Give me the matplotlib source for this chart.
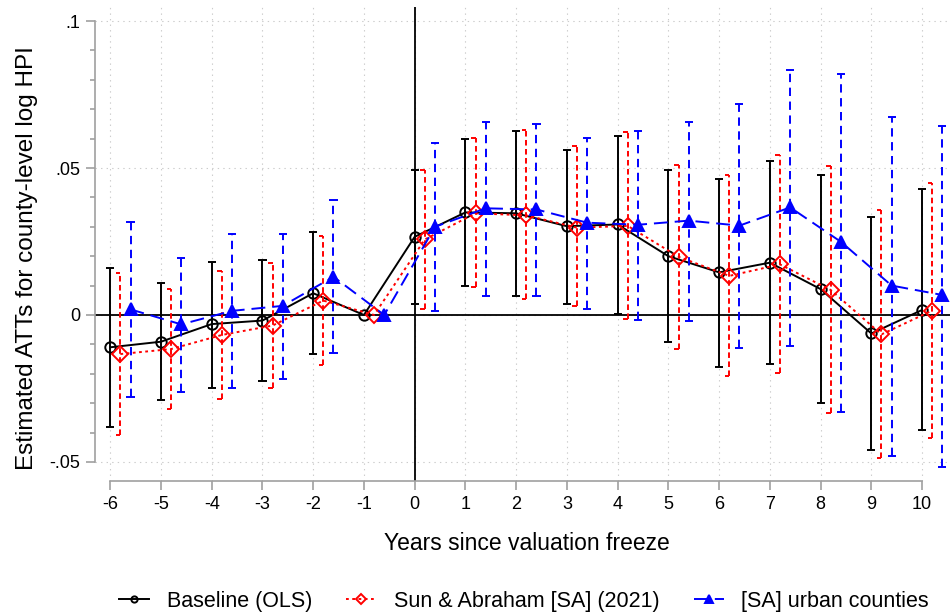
import numpy as np
import matplotlib
matplotlib.use("Agg")
import matplotlib.pyplot as plt

plt.rcParams['font.family'] = ['Liberation Sans', 'DejaVu Sans']
plt.rcParams['lines.scale_dashes'] = False

# Event time
years = np.arange(-6, 11)

# Baseline (OLS)
base_est = [-0.0110, -0.0091, -0.0031, -0.0019, 0.0074, 0.0, 0.0266, 0.0349, 0.0346,
            0.0302, 0.0308, 0.0200, 0.0145, 0.0178, 0.0088, -0.0063, 0.0017]
base_lo = [-0.0380, -0.0291, -0.0247, -0.0223, -0.0134, 0.0, 0.0039, 0.0100, 0.0066,
           0.0039, 0.0003, -0.0092, -0.0176, -0.0168, -0.0300, -0.0459, -0.0391]
base_hi = [0.0159, 0.0110, 0.0179, 0.0187, 0.0282, 0.0, 0.0495, 0.0598, 0.0626,
           0.0563, 0.0609, 0.0492, 0.0463, 0.0523, 0.0478, 0.0332, 0.0427]

# Sun & Abraham (2021)
sa_est = [-0.0133, -0.0116, -0.0068, -0.0036, 0.0049, 0.0, 0.0257, 0.0346, 0.0339,
          0.0297, 0.0303, 0.0198, 0.0133, 0.0172, 0.0085, -0.0066, 0.0015]
sa_lo = [-0.0407, -0.0321, -0.0286, -0.0247, -0.0170, 0.0, 0.0020, 0.0095, 0.0053,
         0.0031, -0.0015, -0.0115, -0.0207, -0.0196, -0.0334, -0.0488, -0.0418]
sa_hi = [0.0142, 0.0090, 0.0150, 0.0176, 0.0270, 0.0, 0.0495, 0.0603, 0.0629,
         0.0576, 0.0624, 0.0512, 0.0478, 0.0545, 0.0507, 0.0357, 0.0450]

# SA urban counties
urb_est = [0.0019, -0.0032, 0.0014, 0.0031, 0.0130, 0.0, 0.0300, 0.0363, 0.0359,
           0.0314, 0.0307, 0.0321, 0.0304, 0.0366, 0.0249, 0.0100, 0.0068]
urb_lo = [-0.0278, -0.0261, -0.0249, -0.0218, -0.0130, 0.0, 0.0015, 0.0066, 0.0066,
          0.0020, -0.0017, -0.0020, -0.0113, -0.0104, -0.0329, -0.0480, -0.0516]
urb_hi = [0.0317, 0.0195, 0.0274, 0.0276, 0.0391, 0.0, 0.0586, 0.0656, 0.0651,
          0.0602, 0.0626, 0.0658, 0.0717, 0.0834, 0.0821, 0.0675, 0.0644]

ytick_vals = [-0.05, 0, 0.05, 0.1]
ytick_labels = ['-.05', '0', '.05', '.1']

fig = plt.figure(figsize=(9.5, 6.14), dpi=100)
ax = fig.add_axes([0.1, 0.2166, 0.9, 0.772])
ax.set_axisbelow(True)

# reference lines and grid
ax.grid(True, which='major', color='#cccccc', lw=0.8, linestyle=(0, (1, 3)))
ax.axhline(0, color='black', lw=1.3, zorder=1)
ax.axvline(0, color='black', lw=1.3, zorder=1)


def add_series(offset, est, lo, hi, color, ls_line, ls_bar, marker, mfc, ms, half_caps=False, z=3):
    x = years + offset
    est = np.array(est)
    lo = np.array(lo)
    hi = np.array(hi)
    m = ~((lo == 0) & (hi == 0))
    # confidence intervals
    ax.vlines(x[m], lo[m], hi[m], color=color, lw=1.4, linestyles=[ls_bar], zorder=z)
    if half_caps:
        ax.hlines(np.r_[lo[m], hi[m]], np.r_[x[m], x[m]] - 0.09, np.r_[x[m], x[m]],
                  color=color, lw=1.4, zorder=z)
    else:
        ax.hlines(np.r_[lo[m], hi[m]], np.r_[x[m], x[m]] - 0.08, np.r_[x[m], x[m]] + 0.08,
                  color=color, lw=1.4, zorder=z)
    line, = ax.plot(x, est, color=color, lw=1.4, linestyle=ls_line, marker=marker,
                    mfc=mfc, mec=color, ms=ms, mew=1.4, zorder=z + 1)
    return line


l1 = add_series(0.0, base_est, base_lo, base_hi, 'black', '-', '-', 'o', 'none', 7.5, z=3)
l2 = add_series(0.2, sa_est, sa_lo, sa_hi, '#ff0000', (0, (2, 2.5)), (0, (4, 2.5)), 'D', 'none', 8,
                half_caps=True, z=5)
l3 = add_series(0.4, urb_est, urb_lo, urb_hi, '#0000ff', (0, (10, 5)), (0, (6, 4)), '^', '#0000ff', 8.5, z=7)

ax.set_xlim(-6.3, 10.55)
ax.set_ylim(-0.0565, 0.1048)
ax.set_xticks(years)
ax.set_xticklabels([str(v) for v in years])
ax.set_yticks(ytick_vals)
ax.set_yticklabels(ytick_labels)
ax.set_yticks(np.arange(-0.04, 0.1, 0.01), minor=True)

for s in ['top', 'right']:
    ax.spines[s].set_visible(False)
ax.spines['left'].set_bounds(-0.05, 0.1)
ax.spines['bottom'].set_bounds(-6, 10)
for s in ['left', 'bottom']:
    ax.spines[s].set_color('#a0a0a0')
    ax.spines[s].set_linewidth(1.2)

ax.tick_params(axis='both', which='major', length=6.5, width=1.2, color='#a0a0a0',
               labelsize=13, pad=4)
ax.tick_params(axis='y', which='minor', length=3.6, width=1.2, color='#a0a0a0')

ax.set_ylabel('Estimated ATTs for county-level log HPI', fontsize=17.5)
ax.set_xlabel('Years since valuation freeze', fontsize=16.5)
ax.yaxis.set_label_coords(-0.0668, 0.47)
ax.xaxis.set_label_coords(0.5047, -0.107)

fig.legend([l1, l2, l3], ['Baseline (OLS)', 'Sun & Abraham [SA] (2021)', '[SA] urban counties'],
           loc='center', bbox_to_anchor=(524 / 950, 1 - 601 / 614), ncol=3, frameon=False,
           fontsize=15.5, handlelength=1.4, handletextpad=0.8, columnspacing=1.6, markerscale=0.6)

fig.savefig('out.png', dpi=100)
